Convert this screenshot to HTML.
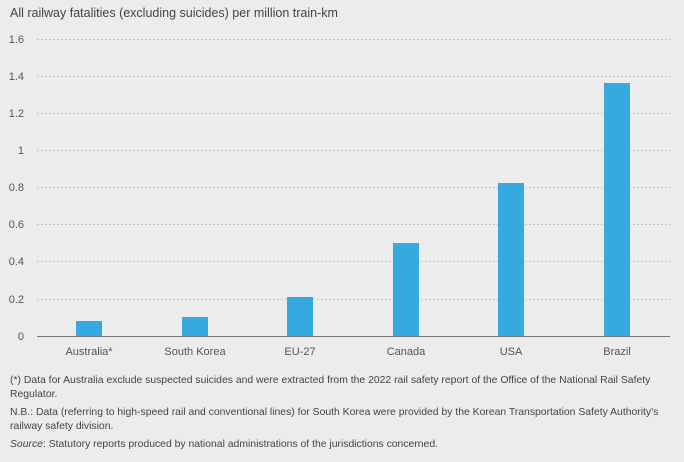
<!DOCTYPE html>
<html><head><style>
body{margin:0;background:#ececec;width:684px;height:457px;overflow:hidden;font-family:"Liberation Sans",sans-serif;color:#444}
</style></head><body>
<svg width="684" height="457" xmlns="http://www.w3.org/2000/svg" font-family="Liberation Sans, sans-serif">
<rect width="684" height="457" fill="#ececec"/>
<text x="10" y="17" font-size="12.5" fill="#444">All railway fatalities (excluding suicides) per million train-km</text>
<g stroke="#b8b8b8" stroke-width="1" stroke-dasharray="1.5,2.5">
<line x1="37" x2="670" y1="39.5" y2="39.5"/>
<line x1="37" x2="670" y1="76.5" y2="76.5"/>
<line x1="37" x2="670" y1="113.5" y2="113.5"/>
<line x1="37" x2="670" y1="150.5" y2="150.5"/>
<line x1="37" x2="670" y1="187.5" y2="187.5"/>
<line x1="37" x2="670" y1="224.5" y2="224.5"/>
<line x1="37" x2="670" y1="261.5" y2="261.5"/>
<line x1="37" x2="670" y1="299.5" y2="299.5"/>
</g>
<g font-size="11" fill="#555" text-anchor="end">
<text x="24" y="43">1.6</text><text x="24" y="80">1.4</text><text x="24" y="117">1.2</text>
<text x="24" y="154">1</text><text x="24" y="191">0.8</text><text x="24" y="228">0.6</text>
<text x="24" y="265">0.4</text><text x="24" y="303">0.2</text><text x="24" y="340">0</text>
</g>
<g fill="#36a9e1">
<rect x="76" y="321" width="26" height="15"/>
<rect x="182" y="317" width="26" height="19"/>
<rect x="287" y="297" width="26" height="39"/>
<rect x="393" y="243" width="26" height="93"/>
<rect x="498" y="183" width="26" height="153"/>
<rect x="604" y="83" width="26" height="253"/>
</g>
<line x1="37" x2="670" y1="336.5" y2="336.5" stroke="#777" stroke-width="1"/>
<g font-size="11" fill="#555" text-anchor="middle">
<text x="89" y="355">Australia*</text><text x="195" y="355">South Korea</text>
<text x="300" y="355">EU-27</text><text x="406" y="355">Canada</text>
<text x="511" y="355">USA</text><text x="617" y="355">Brazil</text>
</g>
<g font-size="10.4" fill="#444">
<text x="10" y="383">(*) Data for Australia exclude suspected suicides and were extracted from the 2022 rail safety report of the Office of the National Rail Safety</text>
<text x="10" y="397">Regulator.</text>
<text x="10" y="415">N.B.: Data (referring to high-speed rail and conventional lines) for South Korea were provided by the Korean Transportation Safety Authority's</text>
<text x="10" y="429">railway safety division.</text>
<text x="10" y="447"><tspan font-style="italic">Source</tspan>: Statutory reports produced by national administrations of the jurisdictions concerned.</text>
</g>
</svg>
</body></html>
